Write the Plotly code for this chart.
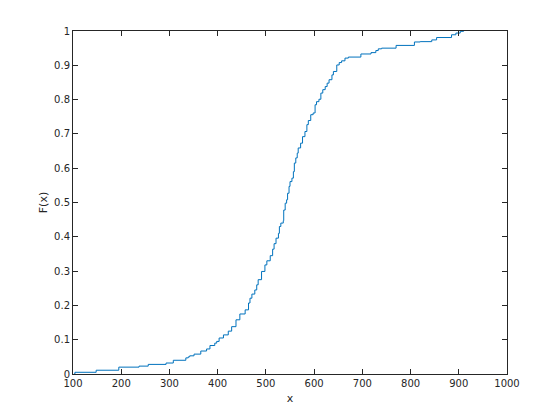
import plotly.graph_objects as go

x_steps = [102, 104, 148, 195, 237, 256, 293, 308, 334, 339, 342, 351, 365, 377, 384, 394, 398,
           403, 412, 422, 429, 438, 446, 457, 464, 467, 471, 477, 481, 484, 491, 498, 502,
           509, 514, 517, 521, 526, 528, 531, 536, 537, 540, 543, 545, 548, 550, 554, 557,
           559, 562, 565, 567, 572, 576, 581, 585, 588, 593, 598, 602, 605, 610, 614, 618,
           623, 627, 631, 637, 640, 647, 652, 657, 664, 671, 697, 718, 728, 733, 740, 770,
           808, 820, 844, 854, 885, 894, 903, 910]
F_steps = [0.000, 0.005, 0.011, 0.020, 0.023, 0.028, 0.032, 0.040, 0.047, 0.050, 0.053, 0.058,
           0.067, 0.073, 0.083, 0.090, 0.095, 0.105, 0.114, 0.125, 0.138, 0.158, 0.175, 0.187,
           0.207, 0.221, 0.233, 0.245, 0.260, 0.275, 0.299, 0.318, 0.330, 0.345, 0.364, 0.380,
           0.396, 0.410, 0.430, 0.440, 0.447, 0.478, 0.498, 0.508, 0.527, 0.547, 0.561, 0.571,
           0.590, 0.615, 0.630, 0.644, 0.659, 0.673, 0.692, 0.707, 0.727, 0.739, 0.756, 0.761,
           0.785, 0.794, 0.801, 0.819, 0.829, 0.838, 0.848, 0.858, 0.872, 0.882, 0.901, 0.908,
           0.913, 0.921, 0.924, 0.933, 0.937, 0.943, 0.948, 0.950, 0.958, 0.968, 0.969, 0.974,
           0.981, 0.989, 0.994, 0.999, 1.000]

x_ticks = [100, 200, 300, 400, 500, 600, 700, 800, 900, 1000]
y_ticks = [0, 0.1, 0.2, 0.3, 0.4, 0.5, 0.6, 0.7, 0.8, 0.9, 1]
y_tick_text = ["0", "0.1", "0.2", "0.3", "0.4", "0.5", "0.6", "0.7", "0.8", "0.9", "1"]

fig = go.Figure()
fig.add_trace(go.Scatter(x=x_steps, y=F_steps, mode="lines", line_shape="hv",
                         line=dict(color="#0072BD", width=1), showlegend=False))

axis_common = dict(showgrid=False, zeroline=False, showline=True, linecolor="#262626",
                   linewidth=1, mirror="ticks", ticks="inside", ticklen=5,
                   tickcolor="#262626", tickfont=dict(family="DejaVu Sans", size=10, color="#262626"))

fig.update_layout(
    width=560, height=420,
    margin=dict(l=73, r=53, t=31, b=46),
    paper_bgcolor="white", plot_bgcolor="white",
    xaxis=dict(range=[100, 1000], tickvals=x_ticks,
               title=dict(text="x", font=dict(family="DejaVu Sans", size=11, color="#262626"), standoff=6),
               **axis_common),
    yaxis=dict(range=[0, 1], tickvals=y_ticks, ticktext=y_tick_text,
               title=dict(text="F(x)", font=dict(family="DejaVu Sans", size=11, color="#262626"), standoff=4),
               **axis_common),
)

fig.write_html("out.html", config={"displayModeBar": False},
               post_script="document.body.style.margin='0';")
